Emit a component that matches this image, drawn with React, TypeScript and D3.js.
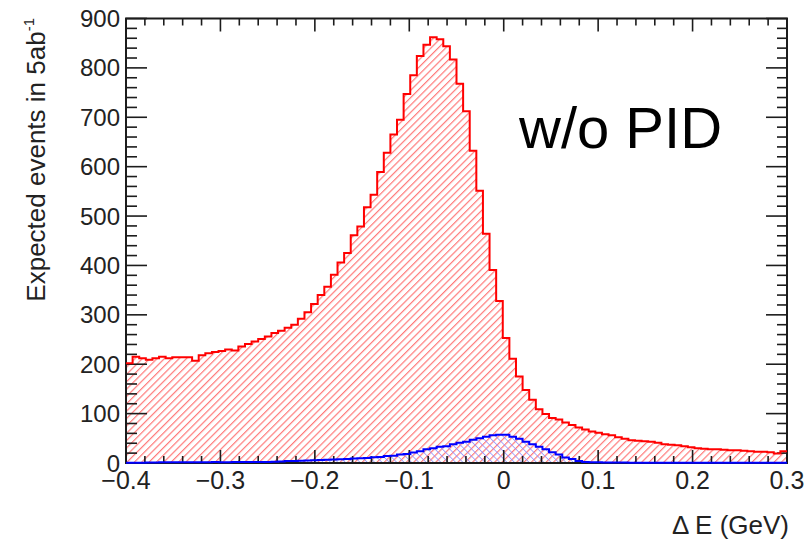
import React from 'react';
import * as d3 from 'd3';

// histogram: 100 bins from -0.4 to 0.3 GeV
const binLow = -0.4;
const binHigh = 0.3;

// all events, w/o PID (red)
const redCounts = [
  202, 215, 212, 209, 212, 215, 212, 214, 214, 214,
  207, 218, 222, 225, 227, 230, 228, 236, 241, 246,
  251, 256, 263, 268, 274, 280, 292, 305, 322, 340,
  357, 381, 406, 425, 461, 479, 518, 543, 589, 628,
  665, 695, 747, 785, 824, 847, 862, 858, 844, 817,
  768, 712, 632, 551, 464, 391, 328, 253, 211, 175,
  148, 128, 109, 99, 91, 88, 82, 77, 72, 68,
  64, 61, 58, 56, 52, 49, 46, 45, 44, 43,
  41, 38, 37, 36, 34, 32, 30, 29, 28, 28,
  27, 26, 26, 25, 24, 23, 23, 22, 19, 24,
];

// signal component (blue)
const blueCounts = [
  0.5, 0.5, 0.3, 1, 1, 1.5, 1.4, 1.6, 1.5, 1.5,
  1.7, 1.6, 1.5, 1.8, 1.6, 1.7, 1.8, 1.9, 1.8, 2,
  2, 2.2, 2.5, 3, 4, 4.2, 4.5, 5, 5.5, 6,
  6.5, 7, 7.5, 8, 9, 9.5, 10, 11.5, 12, 14,
  14.5, 17, 18, 21.5, 24, 28, 30, 33, 34, 38,
  41, 43, 47, 50, 53, 56, 57, 57, 53, 49,
  43, 38, 33, 28, 22, 17, 11, 8, 4, 2,
  1.5, 1.5, 1.2, 1, 1, 0.8, 0.3, 0.3, 0.3, 0.3,
  0.3, 0.3, 0.3, 0.3, 0.3, 0.3, 0.3, 0.3, 0.3, 0.3,
  0.3, 0.3, 0.3, 0.3, 0.3, 0.3, 0.3, 0.3, 0.3, 0.3,
];

const xTickValues = [-0.4, -0.3, -0.2, -0.1, 0, 0.1, 0.2, 0.3];
const xTickLabels = ['\u22120.4', '\u22120.3', '\u22120.2', '\u22120.1', '0', '0.1', '0.2', '0.3'];
const yTickValues = [0, 100, 200, 300, 400, 500, 600, 700, 800, 900];
const yTickLabels = ['0', '100', '200', '300', '400', '500', '600', '700', '800', '900'];

const FONT = '"Liberation Sans", Arial, Helvetica, sans-serif';

export default function App() {
  const x = d3.scaleLinear().domain([binLow, binHigh]).range([126, 787]);
  const y = d3.scaleLinear().domain([0, 900]).range([463, 18.5]);
  const [x0, x1] = x.range();
  const [y0, y1] = y.range();

  const nBins = redCounts.length;
  const edge = (i: number) => binLow + ((binHigh - binLow) * i) / nBins;
  // step points: left edge of every bin, then the right edge of the last one
  const steps = (counts: number[]) => [
    ...counts.map((c, i) => [edge(i), c] as [number, number]),
    [edge(nBins), counts[nBins - 1]] as [number, number],
  ];

  const area = d3
    .area<[number, number]>()
    .curve(d3.curveStepAfter)
    .x(d => x(d[0]))
    .y0(y(0))
    .y1(d => y(d[1]));
  const line = d3
    .line<[number, number]>()
    .curve(d3.curveStepAfter)
    .x(d => x(d[0]))
    .y(d => y(d[1]));

  const redPts = steps(redCounts);
  const bluePts = steps(blueCounts);

  const xMinor = x.ticks(35);
  const yMinor = y.ticks(45);
  const isMajorX = (v: number) => xTickValues.some(t => Math.abs(t - v) < 1e-6);
  const isMajorY = (v: number) => yTickValues.includes(v);

  const axisColor = '#1c1c1c';

  return (
    <svg
      width={807}
      height={540}
      style={{ position: 'absolute', left: 0, top: 0, background: '#fff' }}
      fontFamily={FONT}
    >
      <defs>
        <pattern id="redHatch" patternUnits="userSpaceOnUse" width={5.2} height={5.2}
          patternTransform="rotate(45)">
          <line x1={0} y1={0} x2={0} y2={5.2} stroke="#ff7a7a" strokeWidth={2.4} />
        </pattern>
        <pattern id="blueHatch" patternUnits="userSpaceOnUse" width={5.2} height={5.2}
          patternTransform="rotate(-45)">
          <line x1={0} y1={0} x2={0} y2={5.2} stroke="#9090ff" strokeWidth={1.5} />
        </pattern>
      </defs>

      {/* filled histograms */}
      <path d={area(redPts) ?? ''} fill="url(#redHatch)" />
      <path d={area(bluePts) ?? ''} fill="url(#blueHatch)" />

      {/* frame */}
      <rect x={x0} y={y1} width={x1 - x0} height={y0 - y1} fill="none" stroke={axisColor} strokeWidth={2} />

      {/* x ticks, bottom and top */}
      {xMinor.map(v => {
        const len = isMajorX(v) ? 13 : 7;
        return (
          <g key={'xt' + v} stroke={axisColor} strokeWidth={1.6}>
            <line x1={x(v)} x2={x(v)} y1={y0} y2={y0 - len} />
            <line x1={x(v)} x2={x(v)} y1={y1} y2={y1 + len} />
          </g>
        );
      })}
      {/* y ticks, left and right */}
      {yMinor.map(v => {
        const lenL = isMajorY(v) ? 21 : 11;
        const lenR = isMajorY(v) ? 21 : 10;
        return (
          <g key={'yt' + v} stroke={axisColor} strokeWidth={1.6}>
            <line x1={x0} x2={x0 + lenL} y1={y(v)} y2={y(v)} />
            <line x1={x1} x2={x1 - lenR} y1={y(v)} y2={y(v)} />
          </g>
        );
      })}

      {/* outlines */}
      <path d={line(redPts) ?? ''} fill="none" stroke="#ff0000" strokeWidth={2} />
      <path d={line(bluePts) ?? ''} fill="none" stroke="#0000ff" strokeWidth={2} />

      {/* tick labels */}
      {xTickValues.map((v, i) => (
        <text key={'xl' + v} x={x(v)} y={489} textAnchor="middle" fontSize={25} fill="#222">
          {xTickLabels[i]}
        </text>
      ))}
      {yTickValues.map((v, i) => (
        <text key={'yl' + v} x={120} y={y(v) + 8.5} textAnchor="end" fontSize={24} fill="#222">
          {yTickLabels[i]}
        </text>
      ))}

      {/* axis titles */}
      <text x={789} y={534} textAnchor="end" fontSize={26} fill="#222">
        {'\u0394 E (GeV)'}
      </text>
      <text transform="translate(45,18) rotate(-90)" textAnchor="end" fontSize={26} fill="#222">
        Expected events in 5ab
        <tspan fontSize={15} dy={-11}>-1</tspan>
      </text>

      {/* annotation */}
      <text x={519} y={148} fontSize={58} fill="#000">
        w/o PID
      </text>
    </svg>
  );
}
